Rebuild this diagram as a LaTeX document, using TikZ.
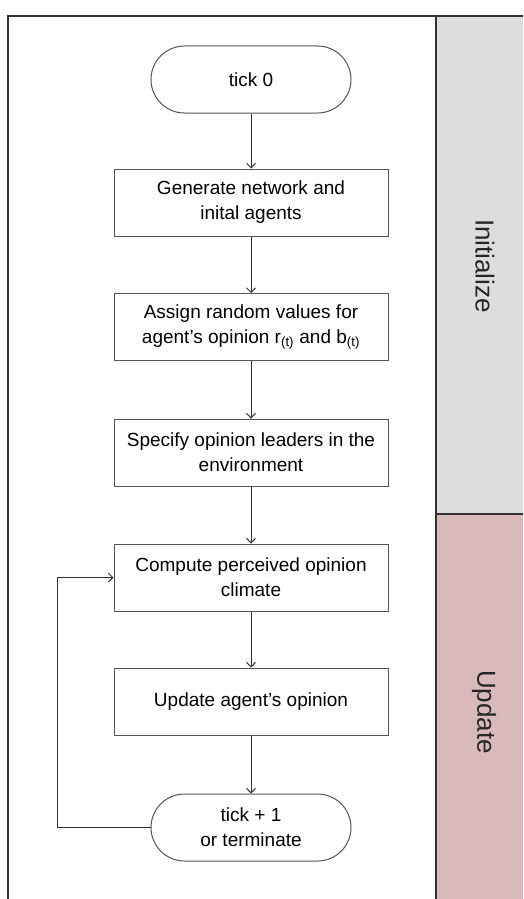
\documentclass[tikz,border=0pt]{standalone}
\usepackage{fontspec}
\setmainfont{Liberation Sans}
\usetikzlibrary{arrows.meta}
\definecolor{initgray}{RGB}{221,221,221}
\definecolor{updpink}{RGB}{216,186,186}
\definecolor{frameline}{RGB}{50,50,50}
\definecolor{boxline}{RGB}{85,85,85}
\tikzset{
  stepbox/.style={draw=boxline, line width=1pt, fill=white, minimum width=274pt,
    minimum height=67pt, align=center, inner sep=0pt,
    font=\fontsize{19}{25}\selectfont},
  terminal/.style={stepbox, minimum width=200pt, rounded corners=33.5pt},
  flow/.style={draw=black!80, line width=1pt, -{Straight Barb[length=4.5pt,width=9pt]}},
  phase/.style={rotate=-90, font=\fontsize{26}{30}\selectfont, text=black!85}
}
\begin{document}
\begin{tikzpicture}[x=1pt,y=-1pt]
\useasboundingbox (0,0) rectangle (523,899);

% phase panels on the right
\fill[initgray] (436,16) rectangle (523,514);
\fill[updpink] (436,514) rectangle (523,899);
\draw[frameline, line width=1.6pt] (436,514) -- (523,514);
\draw[frameline, line width=1.6pt] (8,899) -- (8,16) -- (523,16);
\draw[frameline, line width=2pt] (436,16) -- (436,899);

\node[phase] (init) at (485,266) {Initialize};
\node[phase] (upd) at (484,712) {Update};

% flowchart steps
\node[terminal] (t0) at (251,79.5) {tick 0};
\node[stepbox] (gen) at (251,202.5) {Generate network and\\inital agents};
\node[stepbox] (assign) at (251,327) {Assign random values for\\agent’s opinion r\textsubscript{(t)} and b\textsubscript{(t)}};
\node[stepbox] (spec) at (251,452.5) {Specify opinion leaders in the\\environment};
\node[stepbox] (comp) at (251,577.5) {Compute perceived opinion\\climate};
\node[stepbox] (updop) at (251,701.5) {Update agent’s opinion};
\node[terminal] (t1) at (251,827.5) {tick + 1\\or terminate};

\draw[flow] (t0) -- (gen);
\draw[flow] (gen) -- (assign);
\draw[flow] (assign) -- (spec);
\draw[flow] (spec) -- (comp);
\draw[flow] (comp) -- (updop);
\draw[flow] (updop) -- (t1);

% feedback loop to the next tick
\coordinate (loop) at (57,577.5);
\draw[flow] (t1.west) -| (loop) -- (comp.west);
\end{tikzpicture}
\end{document}
